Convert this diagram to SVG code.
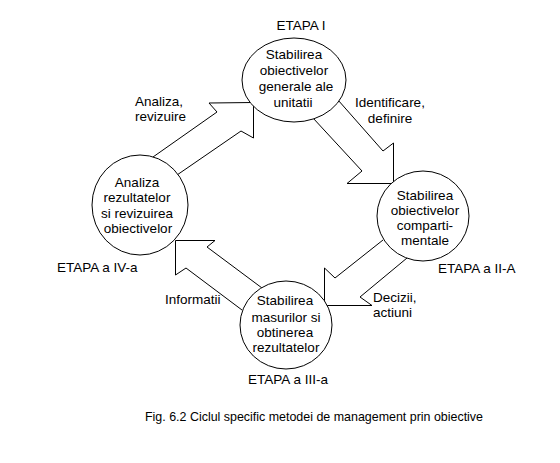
<svg xmlns="http://www.w3.org/2000/svg" width="560" height="463" viewBox="0 0 560 463">
<style>
text{font-family:"Liberation Sans",Arial,sans-serif;font-size:13.5px;fill:#000}
.c{text-anchor:middle}
.node ellipse{fill:#fff;stroke:#000;stroke-width:1}
.arrow{fill:none;stroke:#000;stroke-width:1;stroke-linejoin:miter}
</style>
<rect width="560" height="463" fill="#fff"/>
<g id="connectors">
<polyline class="arrow" points="153,157 217,112 209,103 253.5,102.5 253.5,138 241,131 177,175"/>
<polyline class="arrow" points="338,100 383,151 393.5,143 393.5,183.5 347,183.5 362,171 313,118"/>
<polyline class="arrow" points="383,240 335,278 324.5,268 324.5,305.5 372,305.5 360,297 407,258"/>
<polyline class="arrow" points="262,288 207,247 215,240.5 175.5,240.5 175.5,275 186,268 242,310"/>
<text x="135" y="106">Analiza,</text>
<text x="135" y="121">revizuire</text>
<text class="c" x="390" y="107">Identificare,</text>
<text class="c" x="390" y="123">definire</text>
<text x="373" y="302">Decizii,</text>
<text x="373" y="317">actiuni</text>
<text x="165" y="304">Informatii</text>
</g>
<g id="etapa1" class="node">
<ellipse cx="294" cy="80" rx="52" ry="42"/>
<text class="c" x="294" y="59">Stabilirea</text>
<text class="c" x="294" y="75">obiectivelor</text>
<text class="c" x="296" y="91">generale ale</text>
<text class="c" x="293" y="107">unitatii</text>
<text class="c" x="301" y="30">ETAPA I</text>
</g>
<g id="etapa2" class="node">
<ellipse cx="423" cy="216" rx="46" ry="45"/>
<text class="c" x="425" y="200">Stabilirea</text>
<text class="c" x="425" y="215">obiectivelor</text>
<text class="c" x="425" y="230">comparti-</text>
<text class="c" x="425" y="245">mentale</text>
<text x="438" y="273">ETAPA a II-A</text>
</g>
<g id="etapa3" class="node">
<ellipse cx="286" cy="325" rx="46" ry="44"/>
<text class="c" x="285" y="305">Stabilirea</text>
<text class="c" x="286" y="322">masurilor si</text>
<text class="c" x="285" y="337">obtinerea</text>
<text class="c" x="286" y="352">rezultatelor</text>
<text class="c" x="288" y="384">ETAPA a III-a</text>
</g>
<g id="etapa4" class="node">
<ellipse cx="140" cy="205" rx="48" ry="50"/>
<text class="c" x="137" y="187">Analiza</text>
<text class="c" x="137" y="202">rezultatelor</text>
<text class="c" x="137" y="218">si revizuirea</text>
<text class="c" x="138" y="233">obiectivelor</text>
<text x="57" y="272">ETAPA a IV-a</text>
</g>
<text x="145" y="421" style="font-size:13px" textLength="338" lengthAdjust="spacingAndGlyphs">Fig. 6.2 Ciclul specific metodei de management prin obiective</text>
</svg>
